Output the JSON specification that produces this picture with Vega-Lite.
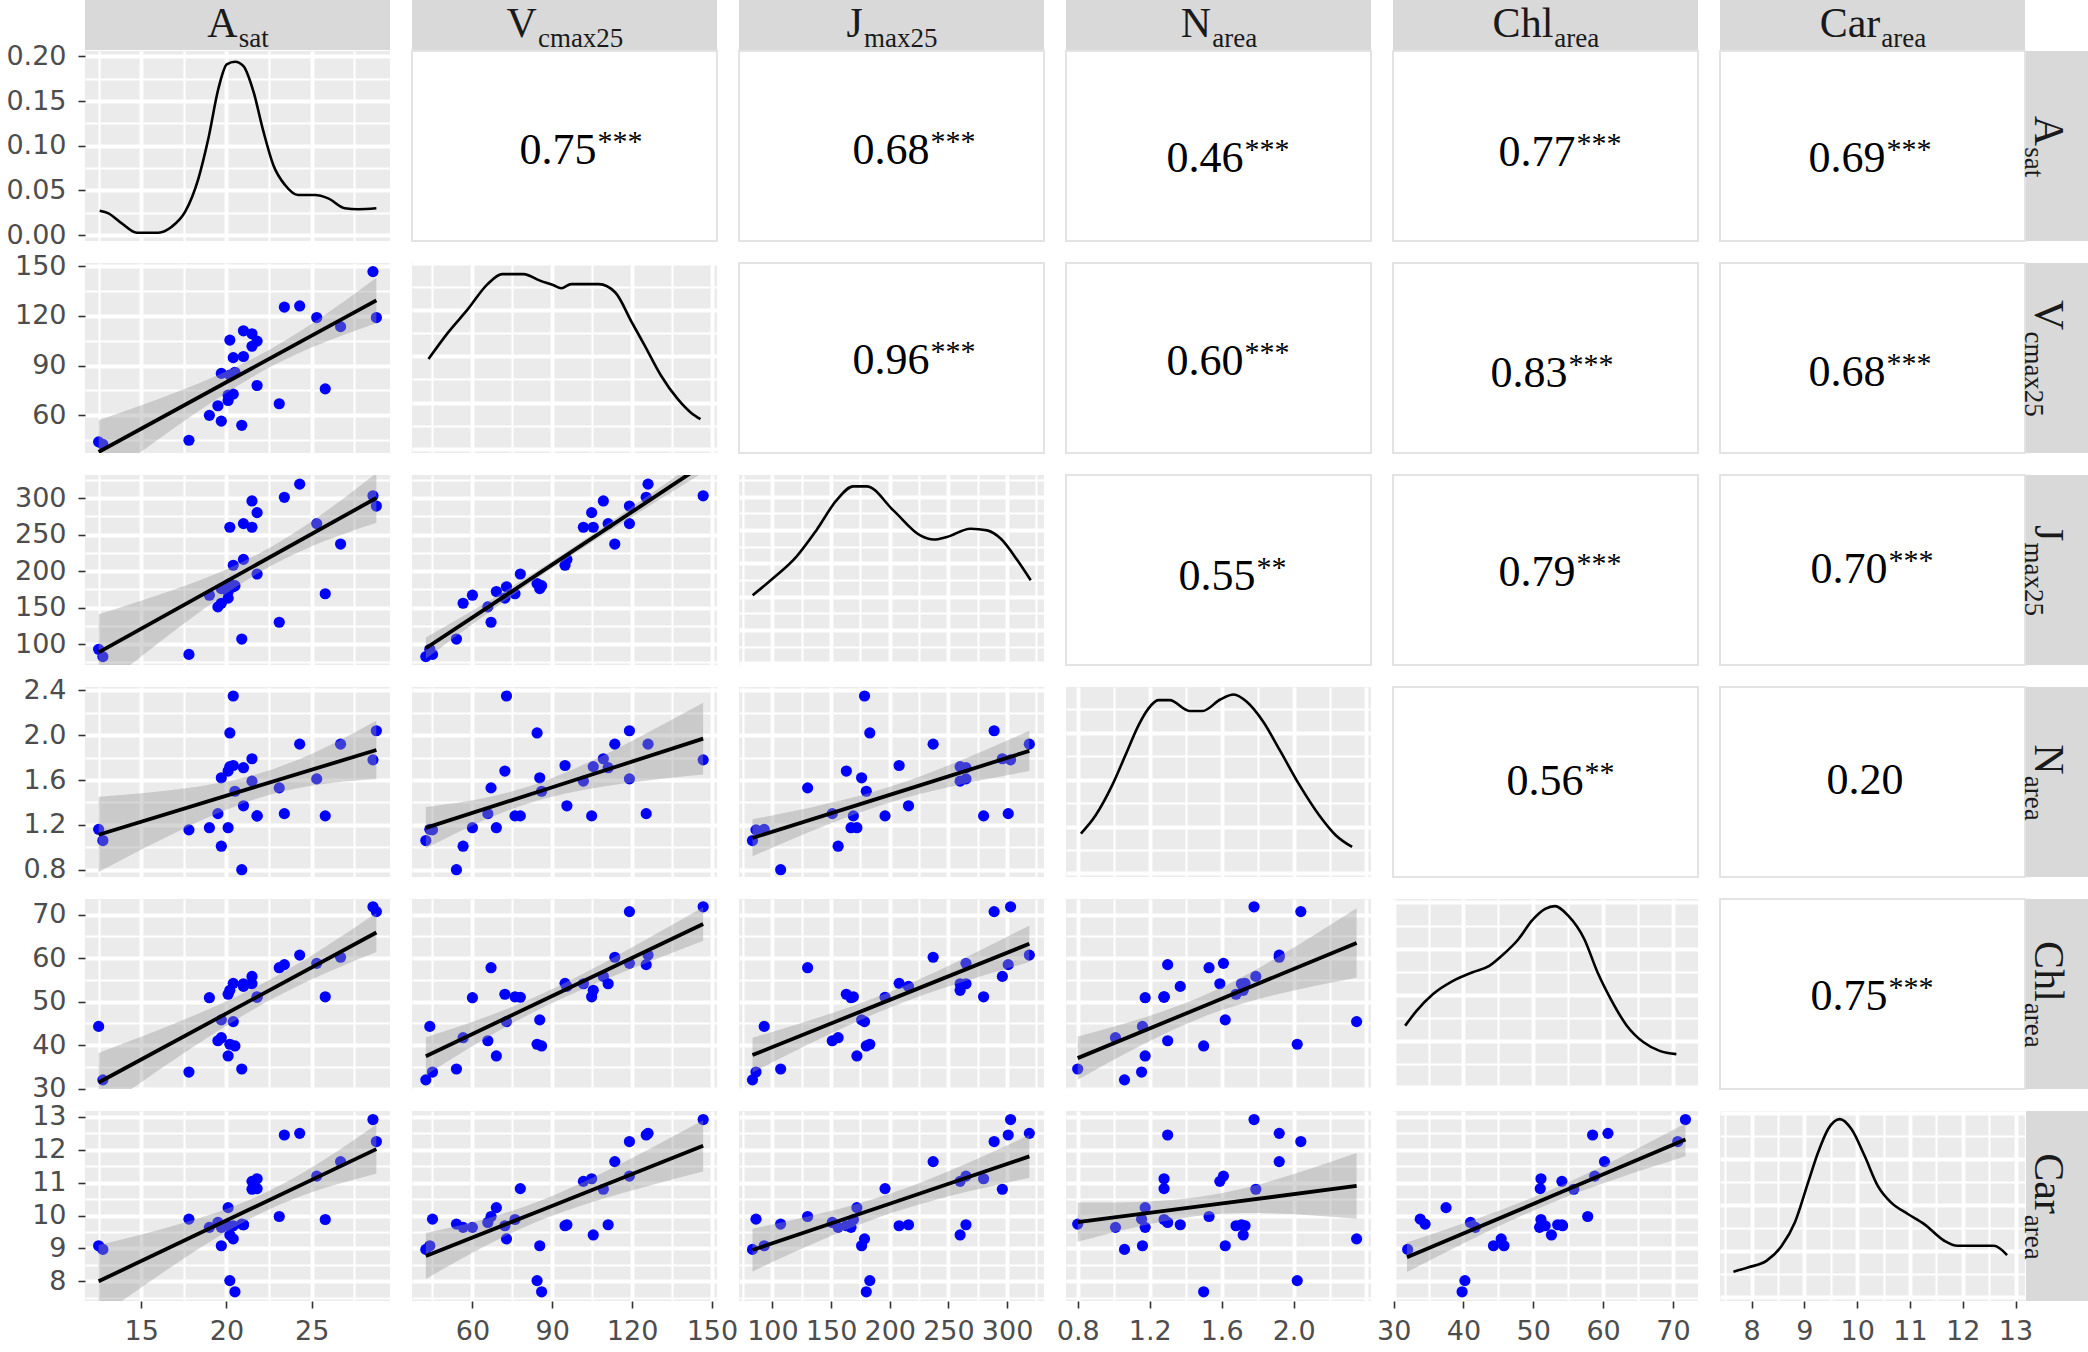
{
"$schema":"https://vega.github.io/schema/vega-lite/v6.json",
"padding":{"left":5,"top":0,"right":0,"bottom":0},
"background":"#FFFFFF",
"config":{
 "view":{"stroke":null},
 "axis":{"domain":false,"gridColor":"#FFFFFF","gridOpacity":1,"labelFont":"DejaVu Sans","labelFontSize":27,"labelColor":"#4D4D4D","tickColor":"#333333","tickSize":7,"tickWidth":1.6,"labelPadding":10,"labelFlush":false,"labelOverlap":false},
 "axisY":{"labelPadding":12}
},
"datasets":{
 "obs":[
  {"A":12.5,"V":44,"J":93,"N":1.16,"Chl":44.3,"Car":9.08},
  {"A":12.75,"V":42.5,"J":83,"N":1.06,"Chl":32.0,"Car":8.97},
  {"A":17.8,"V":45,"J":86,"N":1.155,"Chl":33.8,"Car":9.89},
  {"A":20.9,"V":54,"J":107,"N":0.80,"Chl":34.5,"Car":9.74},
  {"A":19.7,"V":56.5,"J":156,"N":1.01,"Chl":41.7,"Car":9.64},
  {"A":19.0,"V":60,"J":167,"N":1.175,"Chl":50.9,"Car":9.64},
  {"A":19.5,"V":65.8,"J":151,"N":1.30,"Chl":41.0,"Car":9.79},
  {"A":23.1,"V":67,"J":130,"N":1.53,"Chl":57.8,"Car":9.97},
  {"A":20.1,"V":69,"J":172,"N":1.175,"Chl":37.5,"Car":10.24},
  {"A":20.1,"V":72.2,"J":163,"N":1.68,"Chl":51.7,"Car":9.69},
  {"A":20.4,"V":72.8,"J":178.5,"N":2.35,"Chl":45.4,"Car":9.29},
  {"A":25.8,"V":76,"J":169,"N":1.28,"Chl":51.1,"Car":9.88},
  {"A":21.8,"V":78,"J":196,"N":1.28,"Chl":51.0,"Car":10.82},
  {"A":20.2,"V":84.3,"J":183,"N":2.02,"Chl":40.2,"Car":8.02},
  {"A":19.7,"V":85.3,"J":176,"N":1.62,"Chl":45.8,"Car":9.08},
  {"A":20.5,"V":86,"J":180,"N":1.50,"Chl":39.8,"Car":7.68},
  {"A":20.4,"V":94.8,"J":208,"N":1.73,"Chl":54.2,"Car":9.69},
  {"A":21.0,"V":95.5,"J":216,"N":1.37,"Chl":53.5,"Car":9.72},
  {"A":21.5,"V":101.7,"J":260,"N":1.59,"Chl":54.1,"Car":11.04},
  {"A":20.2,"V":105.4,"J":260,"N":1.72,"Chl":52.6,"Car":9.41},
  {"A":21.8,"V":104.8,"J":280,"N":1.28,"Chl":51.1,"Car":11.12},
  {"A":21.5,"V":109.2,"J":296,"N":1.79,"Chl":55.8,"Car":10.8},
  {"A":21.0,"V":111,"J":265,"N":1.71,"Chl":54.1,"Car":9.72},
  {"A":26.7,"V":113.5,"J":237,"N":1.92,"Chl":60.2,"Car":11.64},
  {"A":25.3,"V":119,"J":265,"N":1.61,"Chl":58.8,"Car":11.2},
  {"A":28.8,"V":119,"J":289,"N":2.04,"Chl":70.7,"Car":12.25},
  {"A":23.4,"V":125.3,"J":301,"N":1.30,"Chl":58.5,"Car":12.45},
  {"A":24.3,"V":126,"J":319,"N":1.92,"Chl":60.7,"Car":12.5},
  {"A":28.6,"V":146.7,"J":303,"N":1.78,"Chl":71.8,"Car":12.92}
 ],
 "dens":[
  {"v":"A","x":12.56,"d":0.0273},{"v":"A","x":13.08,"d":0.0243},{"v":"A","x":13.86,"d":0.0131},{"v":"A","x":14.74,"d":0.0027},{"v":"A","x":16.01,"d":0.0027},{"v":"A","x":16.79,"d":0.0094},{"v":"A","x":17.58,"d":0.0262},{"v":"A","x":18.36,"d":0.0636},{"v":"A","x":18.94,"d":0.108},{"v":"A","x":19.53,"d":0.164},{"v":"A","x":20.02,"d":0.191},{"v":"A","x":20.51,"d":0.194},{"v":"A","x":21.0,"d":0.189},{"v":"A","x":21.58,"d":0.161},{"v":"A","x":22.17,"d":0.116},{"v":"A","x":22.75,"d":0.0785},{"v":"A","x":23.44,"d":0.056},{"v":"A","x":24.21,"d":0.0448},{"v":"A","x":25.19,"d":0.0448},{"v":"A","x":25.97,"d":0.0411},{"v":"A","x":26.95,"d":0.030},{"v":"A","x":27.73,"d":0.029},{"v":"A","x":28.8,"d":0.030},
  {"v":"V","x":43.5,"d":3.88},{"v":"V","x":50.9,"d":5.03},{"v":"V","x":58.3,"d":6.03},{"v":"V","x":65.7,"d":7.11},{"v":"V","x":71.2,"d":7.54},{"v":"V","x":79.2,"d":7.54},{"v":"V","x":85.4,"d":7.26},{"v":"V","x":90.3,"d":7.07},{"v":"V","x":93.4,"d":6.93},{"v":"V","x":97.1,"d":7.11},{"v":"V","x":107.5,"d":7.11},{"v":"V","x":113.7,"d":6.75},{"v":"V","x":119.9,"d":5.46},{"v":"V","x":124.8,"d":4.45},{"v":"V","x":130.9,"d":3.16},{"v":"V","x":137.1,"d":2.16},{"v":"V","x":142,"d":1.58},{"v":"V","x":145.7,"d":1.29},
  {"v":"J","x":83.1,"d":4.09},{"v":"J","x":100.3,"d":5.09},{"v":"J","x":120.3,"d":6.39},{"v":"J","x":137.4,"d":7.98},{"v":"J","x":154.6,"d":9.78},{"v":"J","x":168.8,"d":10.62},{"v":"J","x":180.3,"d":10.62},{"v":"J","x":203.1,"d":9.18},{"v":"J","x":226,"d":7.68},{"v":"J","x":237.4,"d":7.43},{"v":"J","x":248.8,"d":7.59},{"v":"J","x":268.8,"d":8.08},{"v":"J","x":283.1,"d":7.98},{"v":"J","x":294.5,"d":7.49},{"v":"J","x":308.8,"d":6.19},{"v":"J","x":320.2,"d":4.99},
  {"v":"N","x":0.818,"d":1.70},{"v":"N","x":0.900,"d":2.48},{"v":"N","x":0.992,"d":3.76},{"v":"N","x":1.065,"d":5.03},{"v":"N","x":1.138,"d":6.31},{"v":"N","x":1.193,"d":7.02},{"v":"N","x":1.248,"d":7.38},{"v":"N","x":1.311,"d":7.38},{"v":"N","x":1.421,"d":6.92},{"v":"N","x":1.494,"d":6.92},{"v":"N","x":1.595,"d":7.42},{"v":"N","x":1.667,"d":7.62},{"v":"N","x":1.741,"d":7.30},{"v":"N","x":1.832,"d":6.45},{"v":"N","x":1.923,"d":5.25},{"v":"N","x":2.033,"d":3.76},{"v":"N","x":2.142,"d":2.48},{"v":"N","x":2.234,"d":1.63},{"v":"N","x":2.325,"d":1.13},
  {"v":"Chl","x":31.65,"d":2.67},{"v":"Chl","x":33.3,"d":3.32},{"v":"Chl","x":35.65,"d":4.04},{"v":"Chl","x":38.5,"d":4.61},{"v":"Chl","x":41.3,"d":4.98},{"v":"Chl","x":43.7,"d":5.26},{"v":"Chl","x":45.5,"d":5.70},{"v":"Chl","x":47.9,"d":6.42},{"v":"Chl","x":49.8,"d":7.21},{"v":"Chl","x":51.7,"d":7.72},{"v":"Chl","x":53.1,"d":7.84},{"v":"Chl","x":55.0,"d":7.43},{"v":"Chl","x":57.3,"d":6.42},{"v":"Chl","x":59.2,"d":4.98},{"v":"Chl","x":61.1,"d":3.82},{"v":"Chl","x":63.4,"d":2.67},{"v":"Chl","x":65.8,"d":1.95},{"v":"Chl","x":68.1,"d":1.58},{"v":"Chl","x":70.5,"d":1.44},
  {"v":"Car","x":7.655,"d":1.11},{"v":"Car","x":7.94,"d":1.30},{"v":"Car","x":8.28,"d":1.58},{"v":"Car","x":8.57,"d":2.23},{"v":"Car","x":8.82,"d":3.25},{"v":"Car","x":9.07,"d":4.98},{"v":"Car","x":9.26,"d":6.28},{"v":"Car","x":9.45,"d":7.29},{"v":"Car","x":9.67,"d":7.72},{"v":"Car","x":9.89,"d":7.29},{"v":"Car","x":10.14,"d":6.13},{"v":"Car","x":10.39,"d":4.83},{"v":"Car","x":10.64,"d":4.11},{"v":"Car","x":10.96,"d":3.61},{"v":"Car","x":11.27,"d":3.17},{"v":"Car","x":11.65,"d":2.45},{"v":"Car","x":11.90,"d":2.23},{"v":"Car","x":12.59,"d":2.23},{"v":"Car","x":12.84,"d":1.83}
 ],
 "fits":[
  {"p":"V_A","x":12.5,"fit":37.9,"lo":19,"hi":57},{"p":"V_A","x":21.5,"fit":88.4,"lo":83,"hi":94},{"p":"V_A","x":28.8,"fit":129.4,"lo":115.5,"hi":143},
  {"p":"J_A","x":12.5,"fit":88.7,"lo":37,"hi":141},{"p":"J_A","x":21.5,"fit":205.4,"lo":192,"hi":219},{"p":"J_A","x":28.8,"fit":300,"lo":266,"hi":334},
  {"p":"N_A","x":12.5,"fit":1.112,"lo":0.78,"hi":1.45},{"p":"N_A","x":21.5,"fit":1.53,"lo":1.42,"hi":1.64},{"p":"N_A","x":28.8,"fit":1.868,"lo":1.61,"hi":2.13},
  {"p":"Chl_A","x":12.5,"fit":31.4,"lo":24.6,"hi":38.2},{"p":"Chl_A","x":21.5,"fit":50.45,"lo":48,"hi":52.9},{"p":"Chl_A","x":28.8,"fit":65.9,"lo":61.4,"hi":70.4},
  {"p":"Car_A","x":12.5,"fit":8.0,"lo":6.9,"hi":9.1},{"p":"Car_A","x":21.5,"fit":10.22,"lo":9.93,"hi":10.51},{"p":"Car_A","x":28.8,"fit":12.02,"lo":11.27,"hi":12.77},
  {"p":"J_V","x":42.5,"fit":94.4,"lo":80,"hi":109},{"p":"J_V","x":88,"fit":204,"lo":199,"hi":209},{"p":"J_V","x":146.7,"fit":345.5,"lo":335,"hi":356},
  {"p":"N_V","x":42.5,"fit":1.173,"lo":0.99,"hi":1.36},{"p":"N_V","x":88,"fit":1.52,"lo":1.44,"hi":1.60},{"p":"N_V","x":146.7,"fit":1.969,"lo":1.65,"hi":2.29},
  {"p":"Chl_V","x":42.5,"fit":37.44,"lo":33.1,"hi":41.8},{"p":"Chl_V","x":88,"fit":50.72,"lo":49.1,"hi":52.3},{"p":"Chl_V","x":146.7,"fit":67.85,"lo":64,"hi":71.7},
  {"p":"Car_V","x":42.5,"fit":8.77,"lo":8.07,"hi":9.47},{"p":"Car_V","x":88,"fit":10.23,"lo":9.93,"hi":10.53},{"p":"Car_V","x":146.7,"fit":12.12,"lo":11.34,"hi":12.9},
  {"p":"N_J","x":83,"fit":1.083,"lo":0.92,"hi":1.25},{"p":"N_J","x":200,"fit":1.468,"lo":1.40,"hi":1.54},{"p":"N_J","x":319,"fit":1.86,"lo":1.68,"hi":2.04},
  {"p":"Chl_J","x":83,"fit":37.7,"lo":33.7,"hi":41.7},{"p":"Chl_J","x":200,"fit":50.4,"lo":48.6,"hi":52.2},{"p":"Chl_J","x":319,"fit":63.3,"lo":59.1,"hi":67.5},
  {"p":"Car_J","x":83,"fit":8.95,"lo":8.3,"hi":9.6},{"p":"Car_J","x":200,"fit":10.36,"lo":10.06,"hi":10.66},{"p":"Car_J","x":319,"fit":11.8,"lo":11.15,"hi":12.45},
  {"p":"Chl_N","x":0.8,"fit":37,"lo":32,"hi":42},{"p":"Chl_N","x":1.55,"fit":49.8,"lo":47.3,"hi":52.3},{"p":"Chl_N","x":2.35,"fit":63.5,"lo":55.5,"hi":71.5},
  {"p":"Car_N","x":0.8,"fit":9.8,"lo":9.2,"hi":10.4},{"p":"Car_N","x":1.55,"fit":10.33,"lo":10.03,"hi":10.63},{"p":"Car_N","x":2.35,"fit":10.9,"lo":9.9,"hi":11.9},
  {"p":"Car_Chl","x":31.9,"fit":8.73,"lo":8.28,"hi":9.18},{"p":"Car_Chl","x":52,"fit":10.53,"lo":10.33,"hi":10.73},{"p":"Car_Chl","x":71.8,"fit":12.31,"lo":11.8,"hi":12.8}
 ],
 "cors":[
  {"p":"A_V","r":"0.75","s":"***"},{"p":"A_J","r":"0.68","s":"***"},{"p":"A_N","r":"0.46","s":"***"},{"p":"A_Chl","r":"0.77","s":"***"},{"p":"A_Car","r":"0.69","s":"***"},
  {"p":"V_J","r":"0.96","s":"***"},{"p":"V_N","r":"0.60","s":"***"},{"p":"V_Chl","r":"0.83","s":"***"},{"p":"V_Car","r":"0.68","s":"***"},
  {"p":"J_N","r":"0.55","s":"**"},{"p":"J_Chl","r":"0.79","s":"***"},{"p":"J_Car","r":"0.70","s":"***"},
  {"p":"N_Chl","r":"0.56","s":"**"},{"p":"N_Car","r":"0.20","s":""},
  {"p":"Chl_Car","r":"0.75","s":"***"}
 ],
 "labels":[
  {"v":"A","main":"A","sub":"sat"},{"v":"V","main":"V","sub":"cmax25"},{"v":"J","main":"J","sub":"max25"},
  {"v":"N","main":"N","sub":"area"},{"v":"Chl","main":"Chl","sub":"area"},{"v":"Car","main":"Car","sub":"area"}
 ]
},
"columns":12,
"spacing":{"row":1,"column":1},
"bounds":"flush",
"align":"each",
"concat":[
  {"width":305,"height":50,"view":{"fill":"#D9D9D9","stroke":null},"data":{"name":"labels"},"transform":[{"filter":"datum.v==='A'"}],"layer":[{"mark":{"type":"text","font":"Liberation Serif","fontSize":42,"align":"right","baseline":"alphabetic","dx":0.2,"dy":12,"color":"#1A1A1A"},"encoding":{"text":{"field":"main"}}},{"mark":{"type":"text","font":"Liberation Serif","fontSize":27,"align":"left","baseline":"alphabetic","dx":1.2,"dy":22,"color":"#1A1A1A"},"encoding":{"text":{"field":"sub"}}}]},
  {"width":19.5,"height":1,"data":{"values":[]},"mark":"point"},
  {"width":305,"height":50,"view":{"fill":"#D9D9D9","stroke":null},"data":{"name":"labels"},"transform":[{"filter":"datum.v==='V'"}],"layer":[{"mark":{"type":"text","font":"Liberation Serif","fontSize":42,"align":"right","baseline":"alphabetic","dx":-27.6,"dy":12,"color":"#1A1A1A"},"encoding":{"text":{"field":"main"}}},{"mark":{"type":"text","font":"Liberation Serif","fontSize":27,"align":"left","baseline":"alphabetic","dx":-26.6,"dy":22,"color":"#1A1A1A"},"encoding":{"text":{"field":"sub"}}}]},
  {"width":19.5,"height":1,"data":{"values":[]},"mark":"point"},
  {"width":305,"height":50,"view":{"fill":"#D9D9D9","stroke":null},"data":{"name":"labels"},"transform":[{"filter":"datum.v==='J'"}],"layer":[{"mark":{"type":"text","font":"Liberation Serif","fontSize":42,"align":"right","baseline":"alphabetic","dx":-28.6,"dy":12,"color":"#1A1A1A"},"encoding":{"text":{"field":"main"}}},{"mark":{"type":"text","font":"Liberation Serif","fontSize":27,"align":"left","baseline":"alphabetic","dx":-27.6,"dy":22,"color":"#1A1A1A"},"encoding":{"text":{"field":"sub"}}}]},
  {"width":19.5,"height":1,"data":{"values":[]},"mark":"point"},
  {"width":305,"height":50,"view":{"fill":"#D9D9D9","stroke":null},"data":{"name":"labels"},"transform":[{"filter":"datum.v==='N'"}],"layer":[{"mark":{"type":"text","font":"Liberation Serif","fontSize":42,"align":"right","baseline":"alphabetic","dx":-7.3,"dy":12,"color":"#1A1A1A"},"encoding":{"text":{"field":"main"}}},{"mark":{"type":"text","font":"Liberation Serif","fontSize":27,"align":"left","baseline":"alphabetic","dx":-6.3,"dy":22,"color":"#1A1A1A"},"encoding":{"text":{"field":"sub"}}}]},
  {"width":19.5,"height":1,"data":{"values":[]},"mark":"point"},
  {"width":305,"height":50,"view":{"fill":"#D9D9D9","stroke":null},"data":{"name":"labels"},"transform":[{"filter":"datum.v==='Chl'"}],"layer":[{"mark":{"type":"text","font":"Liberation Serif","fontSize":42,"align":"right","baseline":"alphabetic","dx":7.8,"dy":12,"color":"#1A1A1A"},"encoding":{"text":{"field":"main"}}},{"mark":{"type":"text","font":"Liberation Serif","fontSize":27,"align":"left","baseline":"alphabetic","dx":8.8,"dy":22,"color":"#1A1A1A"},"encoding":{"text":{"field":"sub"}}}]},
  {"width":19.5,"height":1,"data":{"values":[]},"mark":"point"},
  {"width":305,"height":50,"view":{"fill":"#D9D9D9","stroke":null},"data":{"name":"labels"},"transform":[{"filter":"datum.v==='Car'"}],"layer":[{"mark":{"type":"text","font":"Liberation Serif","fontSize":42,"align":"right","baseline":"alphabetic","dx":7.8,"dy":12,"color":"#1A1A1A"},"encoding":{"text":{"field":"main"}}},{"mark":{"type":"text","font":"Liberation Serif","fontSize":27,"align":"left","baseline":"alphabetic","dx":8.8,"dy":22,"color":"#1A1A1A"},"encoding":{"text":{"field":"sub"}}}]},
  {"width":1,"height":1,"data":{"values":[]},"mark":"point"},

  {"width":305,"height":190,"view":{"fill":"#EBEBEB","stroke":null},"data":{"name":"dens"},"transform":[{"filter":"datum.v==='A'"}],"mark":{"type":"line","color":"#000000","strokeWidth":2.6,"interpolate":"monotone"},"encoding":{"x":{"field":"x","type":"quantitative","scale":{"domain":[11.7,29.6],"nice":false,"zero":false},"axis":{"values":[12.5,15,17.5,20,22.5,25,27.5],"labels":false,"ticks":false,"title":null,"gridWidth":{"condition":{"test":"indexof([15,20,25],datum.value)>=0","value":3.8},"value":2.1}}},"y":{"field":"d","type":"quantitative","scale":{"domain":[-0.0066,0.206],"nice":false,"zero":false},"axis":{"values":[0,0.025,0.05,0.075,0.1,0.125,0.15,0.175,0.2],"title":null,"format":".2f","labelExpr":"indexof([0,0.05,0.1,0.15,0.2],datum.value)>=0?datum.label:''","tickOpacity":{"condition":{"test":"indexof([0,0.05,0.1,0.15,0.2],datum.value)>=0","value":1},"value":0},"gridWidth":{"condition":{"test":"indexof([0,0.05,0.1,0.15,0.2],datum.value)>=0","value":3.8},"value":2.1}}}}},
  {"width":1,"height":1,"data":{"values":[]},"mark":"point"},
  {"width":305,"height":190,"view":{"fill":"#FFFFFF","stroke":"#E3E3E3","strokeWidth":2},"data":{"name":"cors"},"transform":[{"filter":"datum.p==='A_V'"}],"layer":[{"mark":{"type":"text","font":"Liberation Serif","fontSize":44,"align":"right","baseline":"alphabetic","dx":32,"dy":18,"color":"#000000"},"encoding":{"text":{"field":"r"}}},{"mark":{"type":"text","font":"Liberation Serif","fontSize":30,"align":"left","baseline":"alphabetic","dx":33,"dy":5,"color":"#000000"},"encoding":{"text":{"field":"s"}}}]},
  {"width":1,"height":1,"data":{"values":[]},"mark":"point"},
  {"width":305,"height":190,"view":{"fill":"#FFFFFF","stroke":"#E3E3E3","strokeWidth":2},"data":{"name":"cors"},"transform":[{"filter":"datum.p==='A_J'"}],"layer":[{"mark":{"type":"text","font":"Liberation Serif","fontSize":44,"align":"right","baseline":"alphabetic","dx":38,"dy":18,"color":"#000000"},"encoding":{"text":{"field":"r"}}},{"mark":{"type":"text","font":"Liberation Serif","fontSize":30,"align":"left","baseline":"alphabetic","dx":39,"dy":5,"color":"#000000"},"encoding":{"text":{"field":"s"}}}]},
  {"width":1,"height":1,"data":{"values":[]},"mark":"point"},
  {"width":305,"height":190,"view":{"fill":"#FFFFFF","stroke":"#E3E3E3","strokeWidth":2},"data":{"name":"cors"},"transform":[{"filter":"datum.p==='A_N'"}],"layer":[{"mark":{"type":"text","font":"Liberation Serif","fontSize":44,"align":"right","baseline":"alphabetic","dx":25,"dy":26,"color":"#000000"},"encoding":{"text":{"field":"r"}}},{"mark":{"type":"text","font":"Liberation Serif","fontSize":30,"align":"left","baseline":"alphabetic","dx":26,"dy":13,"color":"#000000"},"encoding":{"text":{"field":"s"}}}]},
  {"width":1,"height":1,"data":{"values":[]},"mark":"point"},
  {"width":305,"height":190,"view":{"fill":"#FFFFFF","stroke":"#E3E3E3","strokeWidth":2},"data":{"name":"cors"},"transform":[{"filter":"datum.p==='A_Chl'"}],"layer":[{"mark":{"type":"text","font":"Liberation Serif","fontSize":44,"align":"right","baseline":"alphabetic","dx":30,"dy":20,"color":"#000000"},"encoding":{"text":{"field":"r"}}},{"mark":{"type":"text","font":"Liberation Serif","fontSize":30,"align":"left","baseline":"alphabetic","dx":31,"dy":7,"color":"#000000"},"encoding":{"text":{"field":"s"}}}]},
  {"width":1,"height":1,"data":{"values":[]},"mark":"point"},
  {"width":305,"height":190,"view":{"fill":"#FFFFFF","stroke":"#E3E3E3","strokeWidth":2},"data":{"name":"cors"},"transform":[{"filter":"datum.p==='A_Car'"}],"layer":[{"mark":{"type":"text","font":"Liberation Serif","fontSize":44,"align":"right","baseline":"alphabetic","dx":13,"dy":26,"color":"#000000"},"encoding":{"text":{"field":"r"}}},{"mark":{"type":"text","font":"Liberation Serif","fontSize":30,"align":"left","baseline":"alphabetic","dx":14,"dy":13,"color":"#000000"},"encoding":{"text":{"field":"s"}}}]},
  {"width":63,"height":190,"view":{"fill":"#D9D9D9","stroke":null},"data":{"name":"labels"},"transform":[{"filter":"datum.v==='A'"}],"layer":[{"mark":{"type":"text","font":"Liberation Serif","fontSize":42,"angle":90,"align":"right","baseline":"alphabetic","dx":0.2,"dy":23,"color":"#1A1A1A"},"encoding":{"text":{"field":"main"}}},{"mark":{"type":"text","font":"Liberation Serif","fontSize":27,"angle":90,"align":"left","baseline":"alphabetic","dx":1.2,"dy":33,"color":"#1A1A1A"},"encoding":{"text":{"field":"sub"}}}]},

  {"width":1,"height":20,"data":{"values":[]},"mark":"point"},
  {"width":1,"height":1,"data":{"values":[]},"mark":"point"},{"width":1,"height":1,"data":{"values":[]},"mark":"point"},{"width":1,"height":1,"data":{"values":[]},"mark":"point"},{"width":1,"height":1,"data":{"values":[]},"mark":"point"},{"width":1,"height":1,"data":{"values":[]},"mark":"point"},{"width":1,"height":1,"data":{"values":[]},"mark":"point"},{"width":1,"height":1,"data":{"values":[]},"mark":"point"},{"width":1,"height":1,"data":{"values":[]},"mark":"point"},{"width":1,"height":1,"data":{"values":[]},"mark":"point"},{"width":1,"height":1,"data":{"values":[]},"mark":"point"},{"width":1,"height":1,"data":{"values":[]},"mark":"point"},

  {"width":305,"height":190,"view":{"fill":"#EBEBEB","stroke":null},"encoding":{"x":{"type":"quantitative","scale":{"domain":[11.7,29.6],"nice":false,"zero":false},"axis":{"values":[12.5,15,17.5,20,22.5,25,27.5],"labels":false,"ticks":false,"title":null,"gridWidth":{"condition":{"test":"indexof([15,20,25],datum.value)>=0","value":3.8},"value":2.1}}},"y":{"type":"quantitative","scale":{"domain":[37.3,151.9],"nice":false,"zero":false},"axis":{"values":[45,60,75,90,105,120,135,150],"title":null,"format":".0f","labelExpr":"indexof([60,90,120,150],datum.value)>=0?datum.label:''","tickOpacity":{"condition":{"test":"indexof([60,90,120,150],datum.value)>=0","value":1},"value":0},"gridWidth":{"condition":{"test":"indexof([60,90,120,150],datum.value)>=0","value":3.8},"value":2.1}}}},"layer":[
   {"data":{"name":"obs"},"mark":{"type":"circle","size":125,"color":"#0000FF","opacity":1},"encoding":{"x":{"field":"A"},"y":{"field":"V"}}},
   {"data":{"name":"fits"},"transform":[{"filter":"datum.p==='V_A'"}],"mark":{"type":"area","orient":"vertical","interpolate":"natural","color":"#999999","opacity":0.4,"clip":true},"encoding":{"x":{"field":"x"},"y":{"field":"lo"},"y2":{"field":"hi"}}},
   {"data":{"name":"fits"},"transform":[{"filter":"datum.p==='V_A'"}],"mark":{"type":"line","color":"#000000","strokeWidth":3.8,"clip":true},"encoding":{"x":{"field":"x"},"y":{"field":"fit"}}}
  ]},
  {"width":1,"height":1,"data":{"values":[]},"mark":"point"},
  {"width":305,"height":190,"view":{"fill":"#EBEBEB","stroke":null},"data":{"name":"dens"},"transform":[{"filter":"datum.v==='V'"}],"mark":{"type":"line","color":"#000000","strokeWidth":2.6,"interpolate":"monotone"},"encoding":{"x":{"field":"x","type":"quantitative","scale":{"domain":[37.3,151.9],"nice":false,"zero":false},"axis":{"values":[45,60,75,90,105,120,135,150],"labels":false,"ticks":false,"title":null,"gridWidth":{"condition":{"test":"indexof([60,90,120,150],datum.value)>=0","value":3.8},"value":2.1}}},"y":{"field":"d","type":"quantitative","scale":{"domain":[-0.17,8.02],"nice":false,"zero":false},"axis":{"values":[0,1,2,3,4,5,6,7,8],"labels":false,"ticks":false,"title":null,"gridWidth":{"condition":{"test":"datum.value%2===0","value":3.8},"value":2.1}}}}},
  {"width":1,"height":1,"data":{"values":[]},"mark":"point"},
  {"width":305,"height":190,"view":{"fill":"#FFFFFF","stroke":"#E3E3E3","strokeWidth":2},"data":{"name":"cors"},"transform":[{"filter":"datum.p==='V_J'"}],"layer":[{"mark":{"type":"text","font":"Liberation Serif","fontSize":44,"align":"right","baseline":"alphabetic","dx":38,"dy":16,"color":"#000000"},"encoding":{"text":{"field":"r"}}},{"mark":{"type":"text","font":"Liberation Serif","fontSize":30,"align":"left","baseline":"alphabetic","dx":39,"dy":3,"color":"#000000"},"encoding":{"text":{"field":"s"}}}]},
  {"width":1,"height":1,"data":{"values":[]},"mark":"point"},
  {"width":305,"height":190,"view":{"fill":"#FFFFFF","stroke":"#E3E3E3","strokeWidth":2},"data":{"name":"cors"},"transform":[{"filter":"datum.p==='V_N'"}],"layer":[{"mark":{"type":"text","font":"Liberation Serif","fontSize":44,"align":"right","baseline":"alphabetic","dx":25,"dy":17,"color":"#000000"},"encoding":{"text":{"field":"r"}}},{"mark":{"type":"text","font":"Liberation Serif","fontSize":30,"align":"left","baseline":"alphabetic","dx":26,"dy":4,"color":"#000000"},"encoding":{"text":{"field":"s"}}}]},
  {"width":1,"height":1,"data":{"values":[]},"mark":"point"},
  {"width":305,"height":190,"view":{"fill":"#FFFFFF","stroke":"#E3E3E3","strokeWidth":2},"data":{"name":"cors"},"transform":[{"filter":"datum.p==='V_Chl'"}],"layer":[{"mark":{"type":"text","font":"Liberation Serif","fontSize":44,"align":"right","baseline":"alphabetic","dx":22,"dy":29,"color":"#000000"},"encoding":{"text":{"field":"r"}}},{"mark":{"type":"text","font":"Liberation Serif","fontSize":30,"align":"left","baseline":"alphabetic","dx":23,"dy":16,"color":"#000000"},"encoding":{"text":{"field":"s"}}}]},
  {"width":1,"height":1,"data":{"values":[]},"mark":"point"},
  {"width":305,"height":190,"view":{"fill":"#FFFFFF","stroke":"#E3E3E3","strokeWidth":2},"data":{"name":"cors"},"transform":[{"filter":"datum.p==='V_Car'"}],"layer":[{"mark":{"type":"text","font":"Liberation Serif","fontSize":44,"align":"right","baseline":"alphabetic","dx":13,"dy":28,"color":"#000000"},"encoding":{"text":{"field":"r"}}},{"mark":{"type":"text","font":"Liberation Serif","fontSize":30,"align":"left","baseline":"alphabetic","dx":14,"dy":15,"color":"#000000"},"encoding":{"text":{"field":"s"}}}]},
  {"width":63,"height":190,"view":{"fill":"#D9D9D9","stroke":null},"data":{"name":"labels"},"transform":[{"filter":"datum.v==='V'"}],"layer":[{"mark":{"type":"text","font":"Liberation Serif","fontSize":42,"angle":90,"align":"right","baseline":"alphabetic","dx":-27.6,"dy":23,"color":"#1A1A1A"},"encoding":{"text":{"field":"main"}}},{"mark":{"type":"text","font":"Liberation Serif","fontSize":27,"angle":90,"align":"left","baseline":"alphabetic","dx":-26.6,"dy":33,"color":"#1A1A1A"},"encoding":{"text":{"field":"sub"}}}]},

  {"width":1,"height":20,"data":{"values":[]},"mark":"point"},
  {"width":1,"height":1,"data":{"values":[]},"mark":"point"},{"width":1,"height":1,"data":{"values":[]},"mark":"point"},{"width":1,"height":1,"data":{"values":[]},"mark":"point"},{"width":1,"height":1,"data":{"values":[]},"mark":"point"},{"width":1,"height":1,"data":{"values":[]},"mark":"point"},{"width":1,"height":1,"data":{"values":[]},"mark":"point"},{"width":1,"height":1,"data":{"values":[]},"mark":"point"},{"width":1,"height":1,"data":{"values":[]},"mark":"point"},{"width":1,"height":1,"data":{"values":[]},"mark":"point"},{"width":1,"height":1,"data":{"values":[]},"mark":"point"},{"width":1,"height":1,"data":{"values":[]},"mark":"point"},

  {"width":305,"height":190,"view":{"fill":"#EBEBEB","stroke":null},"encoding":{"x":{"type":"quantitative","scale":{"domain":[11.7,29.6],"nice":false,"zero":false},"axis":{"values":[12.5,15,17.5,20,22.5,25,27.5],"labels":false,"ticks":false,"title":null,"gridWidth":{"condition":{"test":"indexof([15,20,25],datum.value)>=0","value":3.8},"value":2.1}}},"y":{"type":"quantitative","scale":{"domain":[71.5,331.5],"nice":false,"zero":false},"axis":{"values":[75,100,125,150,175,200,225,250,275,300,325],"title":null,"format":".0f","labelExpr":"indexof([100,150,200,250,300],datum.value)>=0?datum.label:''","tickOpacity":{"condition":{"test":"indexof([100,150,200,250,300],datum.value)>=0","value":1},"value":0},"gridWidth":{"condition":{"test":"indexof([100,150,200,250,300],datum.value)>=0","value":3.8},"value":2.1}}}},"layer":[
   {"data":{"name":"obs"},"mark":{"type":"circle","size":125,"color":"#0000FF","opacity":1},"encoding":{"x":{"field":"A"},"y":{"field":"J"}}},
   {"data":{"name":"fits"},"transform":[{"filter":"datum.p==='J_A'"}],"mark":{"type":"area","orient":"vertical","interpolate":"natural","color":"#999999","opacity":0.4,"clip":true},"encoding":{"x":{"field":"x"},"y":{"field":"lo"},"y2":{"field":"hi"}}},
   {"data":{"name":"fits"},"transform":[{"filter":"datum.p==='J_A'"}],"mark":{"type":"line","color":"#000000","strokeWidth":3.8,"clip":true},"encoding":{"x":{"field":"x"},"y":{"field":"fit"}}}
  ]},
  {"width":1,"height":1,"data":{"values":[]},"mark":"point"},
  {"width":305,"height":190,"view":{"fill":"#EBEBEB","stroke":null},"encoding":{"x":{"type":"quantitative","scale":{"domain":[37.3,151.9],"nice":false,"zero":false},"axis":{"values":[45,60,75,90,105,120,135,150],"labels":false,"ticks":false,"title":null,"gridWidth":{"condition":{"test":"indexof([60,90,120,150],datum.value)>=0","value":3.8},"value":2.1}}},"y":{"type":"quantitative","scale":{"domain":[71.5,331.5],"nice":false,"zero":false},"axis":{"values":[75,100,125,150,175,200,225,250,275,300,325],"labels":false,"ticks":false,"title":null,"gridWidth":{"condition":{"test":"indexof([100,150,200,250,300],datum.value)>=0","value":3.8},"value":2.1}}}},"layer":[
   {"data":{"name":"obs"},"mark":{"type":"circle","size":125,"color":"#0000FF","opacity":1},"encoding":{"x":{"field":"V"},"y":{"field":"J"}}},
   {"data":{"name":"fits"},"transform":[{"filter":"datum.p==='J_V'"}],"mark":{"type":"area","orient":"vertical","interpolate":"natural","color":"#999999","opacity":0.4,"clip":true},"encoding":{"x":{"field":"x"},"y":{"field":"lo"},"y2":{"field":"hi"}}},
   {"data":{"name":"fits"},"transform":[{"filter":"datum.p==='J_V'"}],"mark":{"type":"line","color":"#000000","strokeWidth":3.8,"clip":true},"encoding":{"x":{"field":"x"},"y":{"field":"fit"}}}
  ]},
  {"width":1,"height":1,"data":{"values":[]},"mark":"point"},
  {"width":305,"height":190,"view":{"fill":"#EBEBEB","stroke":null},"data":{"name":"dens"},"transform":[{"filter":"datum.v==='J'"}],"mark":{"type":"line","color":"#000000","strokeWidth":2.6,"interpolate":"monotone"},"encoding":{"x":{"field":"x","type":"quantitative","scale":{"domain":[71.5,331.5],"nice":false,"zero":false},"axis":{"values":[75,100,125,150,175,200,225,250,275,300,325],"labels":false,"ticks":false,"title":null,"gridWidth":{"condition":{"test":"indexof([100,150,200,250,300],datum.value)>=0","value":3.8},"value":2.1}}},"y":{"field":"d","type":"quantitative","scale":{"domain":[-0.09,11.3],"nice":false,"zero":false},"axis":{"values":[0,1,2,3,4,5,6,7,8,9,10,11],"labels":false,"ticks":false,"title":null,"gridWidth":{"condition":{"test":"datum.value%2===0","value":3.8},"value":2.1}}}}},
  {"width":1,"height":1,"data":{"values":[]},"mark":"point"},
  {"width":305,"height":190,"view":{"fill":"#FFFFFF","stroke":"#E3E3E3","strokeWidth":2},"data":{"name":"cors"},"transform":[{"filter":"datum.p==='J_N'"}],"layer":[{"mark":{"type":"text","font":"Liberation Serif","fontSize":44,"align":"right","baseline":"alphabetic","dx":37,"dy":20,"color":"#000000"},"encoding":{"text":{"field":"r"}}},{"mark":{"type":"text","font":"Liberation Serif","fontSize":30,"align":"left","baseline":"alphabetic","dx":38,"dy":7,"color":"#000000"},"encoding":{"text":{"field":"s"}}}]},
  {"width":1,"height":1,"data":{"values":[]},"mark":"point"},
  {"width":305,"height":190,"view":{"fill":"#FFFFFF","stroke":"#E3E3E3","strokeWidth":2},"data":{"name":"cors"},"transform":[{"filter":"datum.p==='J_Chl'"}],"layer":[{"mark":{"type":"text","font":"Liberation Serif","fontSize":44,"align":"right","baseline":"alphabetic","dx":30,"dy":16,"color":"#000000"},"encoding":{"text":{"field":"r"}}},{"mark":{"type":"text","font":"Liberation Serif","fontSize":30,"align":"left","baseline":"alphabetic","dx":31,"dy":3,"color":"#000000"},"encoding":{"text":{"field":"s"}}}]},
  {"width":1,"height":1,"data":{"values":[]},"mark":"point"},
  {"width":305,"height":190,"view":{"fill":"#FFFFFF","stroke":"#E3E3E3","strokeWidth":2},"data":{"name":"cors"},"transform":[{"filter":"datum.p==='J_Car'"}],"layer":[{"mark":{"type":"text","font":"Liberation Serif","fontSize":44,"align":"right","baseline":"alphabetic","dx":15,"dy":13,"color":"#000000"},"encoding":{"text":{"field":"r"}}},{"mark":{"type":"text","font":"Liberation Serif","fontSize":30,"align":"left","baseline":"alphabetic","dx":16,"dy":0,"color":"#000000"},"encoding":{"text":{"field":"s"}}}]},
  {"width":63,"height":190,"view":{"fill":"#D9D9D9","stroke":null},"data":{"name":"labels"},"transform":[{"filter":"datum.v==='J'"}],"layer":[{"mark":{"type":"text","font":"Liberation Serif","fontSize":42,"angle":90,"align":"right","baseline":"alphabetic","dx":-28.6,"dy":23,"color":"#1A1A1A"},"encoding":{"text":{"field":"main"}}},{"mark":{"type":"text","font":"Liberation Serif","fontSize":27,"angle":90,"align":"left","baseline":"alphabetic","dx":-27.6,"dy":33,"color":"#1A1A1A"},"encoding":{"text":{"field":"sub"}}}]},

  {"width":1,"height":20,"data":{"values":[]},"mark":"point"},
  {"width":1,"height":1,"data":{"values":[]},"mark":"point"},{"width":1,"height":1,"data":{"values":[]},"mark":"point"},{"width":1,"height":1,"data":{"values":[]},"mark":"point"},{"width":1,"height":1,"data":{"values":[]},"mark":"point"},{"width":1,"height":1,"data":{"values":[]},"mark":"point"},{"width":1,"height":1,"data":{"values":[]},"mark":"point"},{"width":1,"height":1,"data":{"values":[]},"mark":"point"},{"width":1,"height":1,"data":{"values":[]},"mark":"point"},{"width":1,"height":1,"data":{"values":[]},"mark":"point"},{"width":1,"height":1,"data":{"values":[]},"mark":"point"},{"width":1,"height":1,"data":{"values":[]},"mark":"point"},

  {"width":305,"height":190,"view":{"fill":"#EBEBEB","stroke":null},"encoding":{"x":{"type":"quantitative","scale":{"domain":[11.7,29.6],"nice":false,"zero":false},"axis":{"values":[12.5,15,17.5,20,22.5,25,27.5],"labels":false,"ticks":false,"title":null,"gridWidth":{"condition":{"test":"indexof([15,20,25],datum.value)>=0","value":3.8},"value":2.1}}},"y":{"type":"quantitative","scale":{"domain":[0.735,2.43],"nice":false,"zero":false},"axis":{"values":[0.8,1.0,1.2,1.4,1.6,1.8,2.0,2.2,2.4],"title":null,"format":".1f","labelExpr":"indexof([0.8,1.2,1.6,2,2.4],datum.value)>=0?datum.label:''","tickOpacity":{"condition":{"test":"indexof([0.8,1.2,1.6,2,2.4],datum.value)>=0","value":1},"value":0},"gridWidth":{"condition":{"test":"indexof([0.8,1.2,1.6,2,2.4],datum.value)>=0","value":3.8},"value":2.1}}}},"layer":[
   {"data":{"name":"obs"},"mark":{"type":"circle","size":125,"color":"#0000FF","opacity":1},"encoding":{"x":{"field":"A"},"y":{"field":"N"}}},
   {"data":{"name":"fits"},"transform":[{"filter":"datum.p==='N_A'"}],"mark":{"type":"area","orient":"vertical","interpolate":"natural","color":"#999999","opacity":0.4,"clip":true},"encoding":{"x":{"field":"x"},"y":{"field":"lo"},"y2":{"field":"hi"}}},
   {"data":{"name":"fits"},"transform":[{"filter":"datum.p==='N_A'"}],"mark":{"type":"line","color":"#000000","strokeWidth":3.8,"clip":true},"encoding":{"x":{"field":"x"},"y":{"field":"fit"}}}
  ]},
  {"width":1,"height":1,"data":{"values":[]},"mark":"point"},
  {"width":305,"height":190,"view":{"fill":"#EBEBEB","stroke":null},"encoding":{"x":{"type":"quantitative","scale":{"domain":[37.3,151.9],"nice":false,"zero":false},"axis":{"values":[45,60,75,90,105,120,135,150],"labels":false,"ticks":false,"title":null,"gridWidth":{"condition":{"test":"indexof([60,90,120,150],datum.value)>=0","value":3.8},"value":2.1}}},"y":{"type":"quantitative","scale":{"domain":[0.735,2.43],"nice":false,"zero":false},"axis":{"values":[0.8,1.0,1.2,1.4,1.6,1.8,2.0,2.2,2.4],"labels":false,"ticks":false,"title":null,"gridWidth":{"condition":{"test":"indexof([0.8,1.2,1.6,2,2.4],datum.value)>=0","value":3.8},"value":2.1}}}},"layer":[
   {"data":{"name":"obs"},"mark":{"type":"circle","size":125,"color":"#0000FF","opacity":1},"encoding":{"x":{"field":"V"},"y":{"field":"N"}}},
   {"data":{"name":"fits"},"transform":[{"filter":"datum.p==='N_V'"}],"mark":{"type":"area","orient":"vertical","interpolate":"natural","color":"#999999","opacity":0.4,"clip":true},"encoding":{"x":{"field":"x"},"y":{"field":"lo"},"y2":{"field":"hi"}}},
   {"data":{"name":"fits"},"transform":[{"filter":"datum.p==='N_V'"}],"mark":{"type":"line","color":"#000000","strokeWidth":3.8,"clip":true},"encoding":{"x":{"field":"x"},"y":{"field":"fit"}}}
  ]},
  {"width":1,"height":1,"data":{"values":[]},"mark":"point"},
  {"width":305,"height":190,"view":{"fill":"#EBEBEB","stroke":null},"encoding":{"x":{"type":"quantitative","scale":{"domain":[71.5,331.5],"nice":false,"zero":false},"axis":{"values":[75,100,125,150,175,200,225,250,275,300,325],"labels":false,"ticks":false,"title":null,"gridWidth":{"condition":{"test":"indexof([100,150,200,250,300],datum.value)>=0","value":3.8},"value":2.1}}},"y":{"type":"quantitative","scale":{"domain":[0.735,2.43],"nice":false,"zero":false},"axis":{"values":[0.8,1.0,1.2,1.4,1.6,1.8,2.0,2.2,2.4],"labels":false,"ticks":false,"title":null,"gridWidth":{"condition":{"test":"indexof([0.8,1.2,1.6,2,2.4],datum.value)>=0","value":3.8},"value":2.1}}}},"layer":[
   {"data":{"name":"obs"},"mark":{"type":"circle","size":125,"color":"#0000FF","opacity":1},"encoding":{"x":{"field":"J"},"y":{"field":"N"}}},
   {"data":{"name":"fits"},"transform":[{"filter":"datum.p==='N_J'"}],"mark":{"type":"area","orient":"vertical","interpolate":"natural","color":"#999999","opacity":0.4,"clip":true},"encoding":{"x":{"field":"x"},"y":{"field":"lo"},"y2":{"field":"hi"}}},
   {"data":{"name":"fits"},"transform":[{"filter":"datum.p==='N_J'"}],"mark":{"type":"line","color":"#000000","strokeWidth":3.8,"clip":true},"encoding":{"x":{"field":"x"},"y":{"field":"fit"}}}
  ]},
  {"width":1,"height":1,"data":{"values":[]},"mark":"point"},
  {"width":305,"height":190,"view":{"fill":"#EBEBEB","stroke":null},"data":{"name":"dens"},"transform":[{"filter":"datum.v==='N'"}],"mark":{"type":"line","color":"#000000","strokeWidth":2.6,"interpolate":"monotone"},"encoding":{"x":{"field":"x","type":"quantitative","scale":{"domain":[0.735,2.43],"nice":false,"zero":false},"axis":{"values":[0.8,1.0,1.2,1.4,1.6,1.8,2.0,2.2,2.4],"labels":false,"ticks":false,"title":null,"gridWidth":{"condition":{"test":"indexof([0.8,1.2,1.6,2,2.4],datum.value)>=0","value":3.8},"value":2.1}}},"y":{"field":"d","type":"quantitative","scale":{"domain":[-0.15,7.94],"nice":false,"zero":false},"axis":{"values":[0,1,2,3,4,5,6,7],"labels":false,"ticks":false,"title":null,"gridWidth":{"condition":{"test":"datum.value%2===0","value":3.8},"value":2.1}}}}},
  {"width":1,"height":1,"data":{"values":[]},"mark":"point"},
  {"width":305,"height":190,"view":{"fill":"#FFFFFF","stroke":"#E3E3E3","strokeWidth":2},"data":{"name":"cors"},"transform":[{"filter":"datum.p==='N_Chl'"}],"layer":[{"mark":{"type":"text","font":"Liberation Serif","fontSize":44,"align":"right","baseline":"alphabetic","dx":38,"dy":13,"color":"#000000"},"encoding":{"text":{"field":"r"}}},{"mark":{"type":"text","font":"Liberation Serif","fontSize":30,"align":"left","baseline":"alphabetic","dx":39,"dy":0,"color":"#000000"},"encoding":{"text":{"field":"s"}}}]},
  {"width":1,"height":1,"data":{"values":[]},"mark":"point"},
  {"width":305,"height":190,"view":{"fill":"#FFFFFF","stroke":"#E3E3E3","strokeWidth":2},"data":{"name":"cors"},"transform":[{"filter":"datum.p==='N_Car'"}],"layer":[{"mark":{"type":"text","font":"Liberation Serif","fontSize":44,"align":"right","baseline":"alphabetic","dx":31,"dy":12,"color":"#000000"},"encoding":{"text":{"field":"r"}}},{"mark":{"type":"text","font":"Liberation Serif","fontSize":30,"align":"left","baseline":"alphabetic","dx":32,"dy":-1,"color":"#000000"},"encoding":{"text":{"field":"s"}}}]},
  {"width":63,"height":190,"view":{"fill":"#D9D9D9","stroke":null},"data":{"name":"labels"},"transform":[{"filter":"datum.v==='N'"}],"layer":[{"mark":{"type":"text","font":"Liberation Serif","fontSize":42,"angle":90,"align":"right","baseline":"alphabetic","dx":-7.3,"dy":23,"color":"#1A1A1A"},"encoding":{"text":{"field":"main"}}},{"mark":{"type":"text","font":"Liberation Serif","fontSize":27,"angle":90,"align":"left","baseline":"alphabetic","dx":-6.3,"dy":33,"color":"#1A1A1A"},"encoding":{"text":{"field":"sub"}}}]},

  {"width":1,"height":20,"data":{"values":[]},"mark":"point"},
  {"width":1,"height":1,"data":{"values":[]},"mark":"point"},{"width":1,"height":1,"data":{"values":[]},"mark":"point"},{"width":1,"height":1,"data":{"values":[]},"mark":"point"},{"width":1,"height":1,"data":{"values":[]},"mark":"point"},{"width":1,"height":1,"data":{"values":[]},"mark":"point"},{"width":1,"height":1,"data":{"values":[]},"mark":"point"},{"width":1,"height":1,"data":{"values":[]},"mark":"point"},{"width":1,"height":1,"data":{"values":[]},"mark":"point"},{"width":1,"height":1,"data":{"values":[]},"mark":"point"},{"width":1,"height":1,"data":{"values":[]},"mark":"point"},{"width":1,"height":1,"data":{"values":[]},"mark":"point"},

  {"width":305,"height":190,"view":{"fill":"#EBEBEB","stroke":null},"encoding":{"x":{"type":"quantitative","scale":{"domain":[11.7,29.6],"nice":false,"zero":false},"axis":{"values":[12.5,15,17.5,20,22.5,25,27.5],"labels":false,"ticks":false,"title":null,"gridWidth":{"condition":{"test":"indexof([15,20,25],datum.value)>=0","value":3.8},"value":2.1}}},"y":{"type":"quantitative","scale":{"domain":[29.9,73.6],"nice":false,"zero":false},"axis":{"values":[30,35,40,45,50,55,60,65,70],"title":null,"format":".0f","labelExpr":"indexof([30,40,50,60,70],datum.value)>=0?datum.label:''","tickOpacity":{"condition":{"test":"indexof([30,40,50,60,70],datum.value)>=0","value":1},"value":0},"gridWidth":{"condition":{"test":"indexof([30,40,50,60,70],datum.value)>=0","value":3.8},"value":2.1}}}},"layer":[
   {"data":{"name":"obs"},"mark":{"type":"circle","size":125,"color":"#0000FF","opacity":1},"encoding":{"x":{"field":"A"},"y":{"field":"Chl"}}},
   {"data":{"name":"fits"},"transform":[{"filter":"datum.p==='Chl_A'"}],"mark":{"type":"area","orient":"vertical","interpolate":"natural","color":"#999999","opacity":0.4,"clip":true},"encoding":{"x":{"field":"x"},"y":{"field":"lo"},"y2":{"field":"hi"}}},
   {"data":{"name":"fits"},"transform":[{"filter":"datum.p==='Chl_A'"}],"mark":{"type":"line","color":"#000000","strokeWidth":3.8,"clip":true},"encoding":{"x":{"field":"x"},"y":{"field":"fit"}}}
  ]},
  {"width":1,"height":1,"data":{"values":[]},"mark":"point"},
  {"width":305,"height":190,"view":{"fill":"#EBEBEB","stroke":null},"encoding":{"x":{"type":"quantitative","scale":{"domain":[37.3,151.9],"nice":false,"zero":false},"axis":{"values":[45,60,75,90,105,120,135,150],"labels":false,"ticks":false,"title":null,"gridWidth":{"condition":{"test":"indexof([60,90,120,150],datum.value)>=0","value":3.8},"value":2.1}}},"y":{"type":"quantitative","scale":{"domain":[29.9,73.6],"nice":false,"zero":false},"axis":{"values":[30,35,40,45,50,55,60,65,70],"labels":false,"ticks":false,"title":null,"gridWidth":{"condition":{"test":"indexof([30,40,50,60,70],datum.value)>=0","value":3.8},"value":2.1}}}},"layer":[
   {"data":{"name":"obs"},"mark":{"type":"circle","size":125,"color":"#0000FF","opacity":1},"encoding":{"x":{"field":"V"},"y":{"field":"Chl"}}},
   {"data":{"name":"fits"},"transform":[{"filter":"datum.p==='Chl_V'"}],"mark":{"type":"area","orient":"vertical","interpolate":"natural","color":"#999999","opacity":0.4,"clip":true},"encoding":{"x":{"field":"x"},"y":{"field":"lo"},"y2":{"field":"hi"}}},
   {"data":{"name":"fits"},"transform":[{"filter":"datum.p==='Chl_V'"}],"mark":{"type":"line","color":"#000000","strokeWidth":3.8,"clip":true},"encoding":{"x":{"field":"x"},"y":{"field":"fit"}}}
  ]},
  {"width":1,"height":1,"data":{"values":[]},"mark":"point"},
  {"width":305,"height":190,"view":{"fill":"#EBEBEB","stroke":null},"encoding":{"x":{"type":"quantitative","scale":{"domain":[71.5,331.5],"nice":false,"zero":false},"axis":{"values":[75,100,125,150,175,200,225,250,275,300,325],"labels":false,"ticks":false,"title":null,"gridWidth":{"condition":{"test":"indexof([100,150,200,250,300],datum.value)>=0","value":3.8},"value":2.1}}},"y":{"type":"quantitative","scale":{"domain":[29.9,73.6],"nice":false,"zero":false},"axis":{"values":[30,35,40,45,50,55,60,65,70],"labels":false,"ticks":false,"title":null,"gridWidth":{"condition":{"test":"indexof([30,40,50,60,70],datum.value)>=0","value":3.8},"value":2.1}}}},"layer":[
   {"data":{"name":"obs"},"mark":{"type":"circle","size":125,"color":"#0000FF","opacity":1},"encoding":{"x":{"field":"J"},"y":{"field":"Chl"}}},
   {"data":{"name":"fits"},"transform":[{"filter":"datum.p==='Chl_J'"}],"mark":{"type":"area","orient":"vertical","interpolate":"natural","color":"#999999","opacity":0.4,"clip":true},"encoding":{"x":{"field":"x"},"y":{"field":"lo"},"y2":{"field":"hi"}}},
   {"data":{"name":"fits"},"transform":[{"filter":"datum.p==='Chl_J'"}],"mark":{"type":"line","color":"#000000","strokeWidth":3.8,"clip":true},"encoding":{"x":{"field":"x"},"y":{"field":"fit"}}}
  ]},
  {"width":1,"height":1,"data":{"values":[]},"mark":"point"},
  {"width":305,"height":190,"view":{"fill":"#EBEBEB","stroke":null},"encoding":{"x":{"type":"quantitative","scale":{"domain":[0.735,2.43],"nice":false,"zero":false},"axis":{"values":[0.8,1.0,1.2,1.4,1.6,1.8,2.0,2.2,2.4],"labels":false,"ticks":false,"title":null,"gridWidth":{"condition":{"test":"indexof([0.8,1.2,1.6,2,2.4],datum.value)>=0","value":3.8},"value":2.1}}},"y":{"type":"quantitative","scale":{"domain":[29.9,73.6],"nice":false,"zero":false},"axis":{"values":[30,35,40,45,50,55,60,65,70],"labels":false,"ticks":false,"title":null,"gridWidth":{"condition":{"test":"indexof([30,40,50,60,70],datum.value)>=0","value":3.8},"value":2.1}}}},"layer":[
   {"data":{"name":"obs"},"mark":{"type":"circle","size":125,"color":"#0000FF","opacity":1},"encoding":{"x":{"field":"N"},"y":{"field":"Chl"}}},
   {"data":{"name":"fits"},"transform":[{"filter":"datum.p==='Chl_N'"}],"mark":{"type":"area","orient":"vertical","interpolate":"natural","color":"#999999","opacity":0.4,"clip":true},"encoding":{"x":{"field":"x"},"y":{"field":"lo"},"y2":{"field":"hi"}}},
   {"data":{"name":"fits"},"transform":[{"filter":"datum.p==='Chl_N'"}],"mark":{"type":"line","color":"#000000","strokeWidth":3.8,"clip":true},"encoding":{"x":{"field":"x"},"y":{"field":"fit"}}}
  ]},
  {"width":1,"height":1,"data":{"values":[]},"mark":"point"},
  {"width":305,"height":190,"view":{"fill":"#EBEBEB","stroke":null},"data":{"name":"dens"},"transform":[{"filter":"datum.v==='Chl'"}],"mark":{"type":"line","color":"#000000","strokeWidth":2.6,"interpolate":"monotone"},"encoding":{"x":{"field":"x","type":"quantitative","scale":{"domain":[29.9,73.6],"nice":false,"zero":false},"axis":{"values":[30,35,40,45,50,55,60,65,70],"labels":false,"ticks":false,"title":null,"gridWidth":{"condition":{"test":"indexof([30,40,50,60,70],datum.value)>=0","value":3.8},"value":2.1}}},"y":{"field":"d","type":"quantitative","scale":{"domain":[-0.07,8.15],"nice":false,"zero":false},"axis":{"values":[0,1,2,3,4,5,6,7,8],"labels":false,"ticks":false,"title":null,"gridWidth":{"condition":{"test":"datum.value%2===0","value":3.8},"value":2.1}}}}},
  {"width":1,"height":1,"data":{"values":[]},"mark":"point"},
  {"width":305,"height":190,"view":{"fill":"#FFFFFF","stroke":"#E3E3E3","strokeWidth":2},"data":{"name":"cors"},"transform":[{"filter":"datum.p==='Chl_Car'"}],"layer":[{"mark":{"type":"text","font":"Liberation Serif","fontSize":44,"align":"right","baseline":"alphabetic","dx":15,"dy":16,"color":"#000000"},"encoding":{"text":{"field":"r"}}},{"mark":{"type":"text","font":"Liberation Serif","fontSize":30,"align":"left","baseline":"alphabetic","dx":16,"dy":3,"color":"#000000"},"encoding":{"text":{"field":"s"}}}]},
  {"width":63,"height":190,"view":{"fill":"#D9D9D9","stroke":null},"data":{"name":"labels"},"transform":[{"filter":"datum.v==='Chl'"}],"layer":[{"mark":{"type":"text","font":"Liberation Serif","fontSize":42,"angle":90,"align":"right","baseline":"alphabetic","dx":7.8,"dy":23,"color":"#1A1A1A"},"encoding":{"text":{"field":"main"}}},{"mark":{"type":"text","font":"Liberation Serif","fontSize":27,"angle":90,"align":"left","baseline":"alphabetic","dx":8.8,"dy":33,"color":"#1A1A1A"},"encoding":{"text":{"field":"sub"}}}]},

  {"width":1,"height":20,"data":{"values":[]},"mark":"point"},
  {"width":1,"height":1,"data":{"values":[]},"mark":"point"},{"width":1,"height":1,"data":{"values":[]},"mark":"point"},{"width":1,"height":1,"data":{"values":[]},"mark":"point"},{"width":1,"height":1,"data":{"values":[]},"mark":"point"},{"width":1,"height":1,"data":{"values":[]},"mark":"point"},{"width":1,"height":1,"data":{"values":[]},"mark":"point"},{"width":1,"height":1,"data":{"values":[]},"mark":"point"},{"width":1,"height":1,"data":{"values":[]},"mark":"point"},{"width":1,"height":1,"data":{"values":[]},"mark":"point"},{"width":1,"height":1,"data":{"values":[]},"mark":"point"},{"width":1,"height":1,"data":{"values":[]},"mark":"point"},

  {"width":305,"height":190,"view":{"fill":"#EBEBEB","stroke":null},"encoding":{"x":{"type":"quantitative","scale":{"domain":[11.7,29.6],"nice":false,"zero":false},"axis":{"values":[12.5,15,17.5,20,22.5,25,27.5],"title":null,"format":".0f","labelExpr":"indexof([15,20,25],datum.value)>=0?datum.label:''","tickOpacity":{"condition":{"test":"indexof([15,20,25],datum.value)>=0","value":1},"value":0},"gridWidth":{"condition":{"test":"indexof([15,20,25],datum.value)>=0","value":3.8},"value":2.1}}},"y":{"type":"quantitative","scale":{"domain":[7.4,13.18],"nice":false,"zero":false},"axis":{"values":[7.5,8,8.5,9,9.5,10,10.5,11,11.5,12,12.5,13],"title":null,"format":".0f","labelExpr":"indexof([8,9,10,11,12,13],datum.value)>=0?datum.label:''","tickOpacity":{"condition":{"test":"indexof([8,9,10,11,12,13],datum.value)>=0","value":1},"value":0},"gridWidth":{"condition":{"test":"indexof([8,9,10,11,12,13],datum.value)>=0","value":3.8},"value":2.1}}}},"layer":[
   {"data":{"name":"obs"},"mark":{"type":"circle","size":125,"color":"#0000FF","opacity":1},"encoding":{"x":{"field":"A"},"y":{"field":"Car"}}},
   {"data":{"name":"fits"},"transform":[{"filter":"datum.p==='Car_A'"}],"mark":{"type":"area","orient":"vertical","interpolate":"natural","color":"#999999","opacity":0.4,"clip":true},"encoding":{"x":{"field":"x"},"y":{"field":"lo"},"y2":{"field":"hi"}}},
   {"data":{"name":"fits"},"transform":[{"filter":"datum.p==='Car_A'"}],"mark":{"type":"line","color":"#000000","strokeWidth":3.8,"clip":true},"encoding":{"x":{"field":"x"},"y":{"field":"fit"}}}
  ]},
  {"width":1,"height":1,"data":{"values":[]},"mark":"point"},
  {"width":305,"height":190,"view":{"fill":"#EBEBEB","stroke":null},"encoding":{"x":{"type":"quantitative","scale":{"domain":[37.3,151.9],"nice":false,"zero":false},"axis":{"values":[45,60,75,90,105,120,135,150],"title":null,"format":".0f","labelExpr":"indexof([60,90,120,150],datum.value)>=0?datum.label:''","tickOpacity":{"condition":{"test":"indexof([60,90,120,150],datum.value)>=0","value":1},"value":0},"gridWidth":{"condition":{"test":"indexof([60,90,120,150],datum.value)>=0","value":3.8},"value":2.1}}},"y":{"type":"quantitative","scale":{"domain":[7.4,13.18],"nice":false,"zero":false},"axis":{"values":[7.5,8,8.5,9,9.5,10,10.5,11,11.5,12,12.5,13],"labels":false,"ticks":false,"title":null,"gridWidth":{"condition":{"test":"indexof([8,9,10,11,12,13],datum.value)>=0","value":3.8},"value":2.1}}}},"layer":[
   {"data":{"name":"obs"},"mark":{"type":"circle","size":125,"color":"#0000FF","opacity":1},"encoding":{"x":{"field":"V"},"y":{"field":"Car"}}},
   {"data":{"name":"fits"},"transform":[{"filter":"datum.p==='Car_V'"}],"mark":{"type":"area","orient":"vertical","interpolate":"natural","color":"#999999","opacity":0.4,"clip":true},"encoding":{"x":{"field":"x"},"y":{"field":"lo"},"y2":{"field":"hi"}}},
   {"data":{"name":"fits"},"transform":[{"filter":"datum.p==='Car_V'"}],"mark":{"type":"line","color":"#000000","strokeWidth":3.8,"clip":true},"encoding":{"x":{"field":"x"},"y":{"field":"fit"}}}
  ]},
  {"width":1,"height":1,"data":{"values":[]},"mark":"point"},
  {"width":305,"height":190,"view":{"fill":"#EBEBEB","stroke":null},"encoding":{"x":{"type":"quantitative","scale":{"domain":[71.5,331.5],"nice":false,"zero":false},"axis":{"values":[75,100,125,150,175,200,225,250,275,300,325],"title":null,"format":".0f","labelExpr":"indexof([100,150,200,250,300],datum.value)>=0?datum.label:''","tickOpacity":{"condition":{"test":"indexof([100,150,200,250,300],datum.value)>=0","value":1},"value":0},"gridWidth":{"condition":{"test":"indexof([100,150,200,250,300],datum.value)>=0","value":3.8},"value":2.1}}},"y":{"type":"quantitative","scale":{"domain":[7.4,13.18],"nice":false,"zero":false},"axis":{"values":[7.5,8,8.5,9,9.5,10,10.5,11,11.5,12,12.5,13],"labels":false,"ticks":false,"title":null,"gridWidth":{"condition":{"test":"indexof([8,9,10,11,12,13],datum.value)>=0","value":3.8},"value":2.1}}}},"layer":[
   {"data":{"name":"obs"},"mark":{"type":"circle","size":125,"color":"#0000FF","opacity":1},"encoding":{"x":{"field":"J"},"y":{"field":"Car"}}},
   {"data":{"name":"fits"},"transform":[{"filter":"datum.p==='Car_J'"}],"mark":{"type":"area","orient":"vertical","interpolate":"natural","color":"#999999","opacity":0.4,"clip":true},"encoding":{"x":{"field":"x"},"y":{"field":"lo"},"y2":{"field":"hi"}}},
   {"data":{"name":"fits"},"transform":[{"filter":"datum.p==='Car_J'"}],"mark":{"type":"line","color":"#000000","strokeWidth":3.8,"clip":true},"encoding":{"x":{"field":"x"},"y":{"field":"fit"}}}
  ]},
  {"width":1,"height":1,"data":{"values":[]},"mark":"point"},
  {"width":305,"height":190,"view":{"fill":"#EBEBEB","stroke":null},"encoding":{"x":{"type":"quantitative","scale":{"domain":[0.735,2.43],"nice":false,"zero":false},"axis":{"values":[0.8,1.0,1.2,1.4,1.6,1.8,2.0,2.2,2.4],"title":null,"format":".1f","labelExpr":"indexof([0.8,1.2,1.6,2],datum.value)>=0?datum.label:''","tickOpacity":{"condition":{"test":"indexof([0.8,1.2,1.6,2],datum.value)>=0","value":1},"value":0},"gridWidth":{"condition":{"test":"indexof([0.8,1.2,1.6,2,2.4],datum.value)>=0","value":3.8},"value":2.1}}},"y":{"type":"quantitative","scale":{"domain":[7.4,13.18],"nice":false,"zero":false},"axis":{"values":[7.5,8,8.5,9,9.5,10,10.5,11,11.5,12,12.5,13],"labels":false,"ticks":false,"title":null,"gridWidth":{"condition":{"test":"indexof([8,9,10,11,12,13],datum.value)>=0","value":3.8},"value":2.1}}}},"layer":[
   {"data":{"name":"obs"},"mark":{"type":"circle","size":125,"color":"#0000FF","opacity":1},"encoding":{"x":{"field":"N"},"y":{"field":"Car"}}},
   {"data":{"name":"fits"},"transform":[{"filter":"datum.p==='Car_N'"}],"mark":{"type":"area","orient":"vertical","interpolate":"natural","color":"#999999","opacity":0.4,"clip":true},"encoding":{"x":{"field":"x"},"y":{"field":"lo"},"y2":{"field":"hi"}}},
   {"data":{"name":"fits"},"transform":[{"filter":"datum.p==='Car_N'"}],"mark":{"type":"line","color":"#000000","strokeWidth":3.8,"clip":true},"encoding":{"x":{"field":"x"},"y":{"field":"fit"}}}
  ]},
  {"width":1,"height":1,"data":{"values":[]},"mark":"point"},
  {"width":305,"height":190,"view":{"fill":"#EBEBEB","stroke":null},"encoding":{"x":{"type":"quantitative","scale":{"domain":[29.9,73.6],"nice":false,"zero":false},"axis":{"values":[30,35,40,45,50,55,60,65,70],"title":null,"format":".0f","labelExpr":"indexof([30,40,50,60,70],datum.value)>=0?datum.label:''","tickOpacity":{"condition":{"test":"indexof([30,40,50,60,70],datum.value)>=0","value":1},"value":0},"gridWidth":{"condition":{"test":"indexof([30,40,50,60,70],datum.value)>=0","value":3.8},"value":2.1}}},"y":{"type":"quantitative","scale":{"domain":[7.4,13.18],"nice":false,"zero":false},"axis":{"values":[7.5,8,8.5,9,9.5,10,10.5,11,11.5,12,12.5,13],"labels":false,"ticks":false,"title":null,"gridWidth":{"condition":{"test":"indexof([8,9,10,11,12,13],datum.value)>=0","value":3.8},"value":2.1}}}},"layer":[
   {"data":{"name":"obs"},"mark":{"type":"circle","size":125,"color":"#0000FF","opacity":1},"encoding":{"x":{"field":"Chl"},"y":{"field":"Car"}}},
   {"data":{"name":"fits"},"transform":[{"filter":"datum.p==='Car_Chl'"}],"mark":{"type":"area","orient":"vertical","interpolate":"natural","color":"#999999","opacity":0.4,"clip":true},"encoding":{"x":{"field":"x"},"y":{"field":"lo"},"y2":{"field":"hi"}}},
   {"data":{"name":"fits"},"transform":[{"filter":"datum.p==='Car_Chl'"}],"mark":{"type":"line","color":"#000000","strokeWidth":3.8,"clip":true},"encoding":{"x":{"field":"x"},"y":{"field":"fit"}}}
  ]},
  {"width":1,"height":1,"data":{"values":[]},"mark":"point"},
  {"width":305,"height":190,"view":{"fill":"#EBEBEB","stroke":null},"data":{"name":"dens"},"transform":[{"filter":"datum.v==='Car'"}],"mark":{"type":"line","color":"#000000","strokeWidth":2.6,"interpolate":"monotone"},"encoding":{"x":{"field":"x","type":"quantitative","scale":{"domain":[7.4,13.18],"nice":false,"zero":false},"axis":{"values":[7.5,8,8.5,9,9.5,10,10.5,11,11.5,12,12.5,13],"title":null,"format":".0f","labelExpr":"indexof([8,9,10,11,12,13],datum.value)>=0?datum.label:''","tickOpacity":{"condition":{"test":"indexof([8,9,10,11,12,13],datum.value)>=0","value":1},"value":0},"gridWidth":{"condition":{"test":"indexof([8,9,10,11,12,13],datum.value)>=0","value":3.8},"value":2.1}}},"y":{"field":"d","type":"quantitative","scale":{"domain":[-0.16,8.07],"nice":false,"zero":false},"axis":{"values":[0,1,2,3,4,5,6,7,8],"labels":false,"ticks":false,"title":null,"gridWidth":{"condition":{"test":"datum.value%2===0","value":3.8},"value":2.1}}}}},
  {"width":63,"height":190,"view":{"fill":"#D9D9D9","stroke":null},"data":{"name":"labels"},"transform":[{"filter":"datum.v==='Car'"}],"layer":[{"mark":{"type":"text","font":"Liberation Serif","fontSize":42,"angle":90,"align":"right","baseline":"alphabetic","dx":7.8,"dy":23,"color":"#1A1A1A"},"encoding":{"text":{"field":"main"}}},{"mark":{"type":"text","font":"Liberation Serif","fontSize":27,"angle":90,"align":"left","baseline":"alphabetic","dx":8.8,"dy":33,"color":"#1A1A1A"},"encoding":{"text":{"field":"sub"}}}]}
]
}
